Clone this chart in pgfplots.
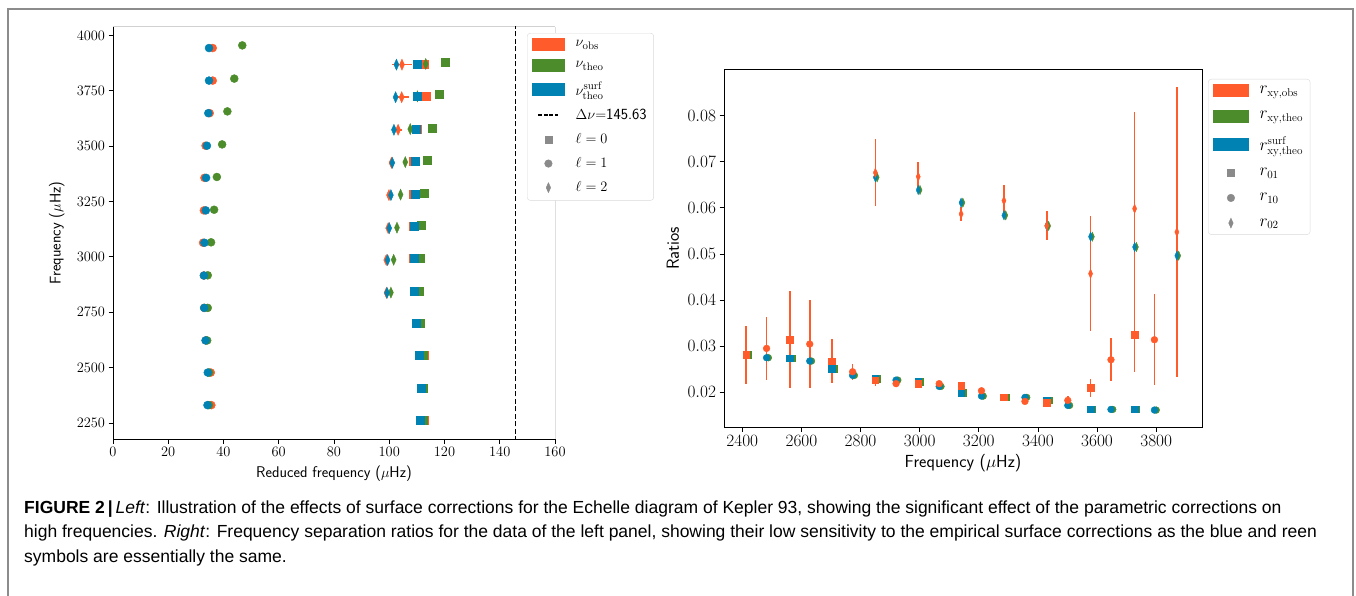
\documentclass[border=0pt]{standalone}
\usepackage{fontspec}
\usepackage{pgfplots}
\usepackage{pgfplotstable}
\pgfplotsset{compat=1.18}
\newfontfamily\capfont{Liberation Sans}
\definecolor{obs}{HTML}{FF5B2B}
\definecolor{theo}{HTML}{4C8C2B}
\definecolor{surf}{HTML}{0083B3}
\definecolor{lgray}{HTML}{8A8A8A}

% ---------- left panel data ----------
\pgfplotstableread{
x y xe
36.1 3943 0.4
36.1 3796 0.4
35.0 3649 0.3
33.5 3502 0.3
33.1 3357 0.3
32.9 3210 0.3
32.6 3064 0.3
32.9 2916 0.3
33.0 2770 0.3
33.6 2623 0.3
35.4 2478 0.3
35.6 2331 0.3
}\LcircObs
\pgfplotstableread{
x y
46.8 3955
43.9 3805
41.4 3657
39.5 3508
37.6 3361
36.6 3213
35.5 3066
34.3 2917
34.3 2770
34.1 2623
34.8 2478
34.7 2331
}\LcircTheo
\pgfplotstableread{
x y
34.75 3943
34.75 3796
34.5 3649
34.0 3502
33.7 3357
33.6 3210
33.1 3064
32.9 2916
33.0 2770
33.5 2623
34.3 2478
34.2 2331
}\LcircSurf
\pgfplotstableread{
x y xe
112.6 3871 1.5
113.4 3727 0.6
110.0 3577 0.5
108.7 3430 0.4
108.5 3283 0.4
108.8 3138 0.4
108.5 2992 0.4
109.0 2846 0.4
110.3 2701 0.4
112.7 2556 0.5
112.4 2409 0.5
112.8 2263 0.6
}\LsqObs
\pgfplotstableread{
x y
120.3 3880
117.9 3733
115.6 3583
113.9 3436
112.7 3289
111.7 3142
111.1 2994
110.7 2847
111.2 2701
112.4 2556
112.2 2409
112.4 2263
}\LsqTheo
\pgfplotstableread{
x y
110.2 3871
110.2 3727
109.8 3577
109.4 3430
109.3 3283
109.0 3138
109.0 2992
109.0 2846
109.6 2701
110.9 2556
111.4 2409
111.1 2263
}\LsqSurf
\pgfplotstableread{
x y xe
104.6 3868 3.5
104.5 3721 2.8
103.2 3574 1.3
100.8 3425 0.8
99.9 3279 0.8
99.6 3130 0.6
98.9 2986 0.8
99.0 2838 0.6
}\LdiaObs
\pgfplotstableread{
x y
113.2 3871
110.2 3725
107.6 3577
105.8 3428
104.1 3281
102.8 3132
101.6 2987
100.6 2839
}\LdiaTheo
\pgfplotstableread{
x y
102.6 3868
102.3 3721
101.7 3574
101.1 3425
100.6 3279
100.0 3130
99.4 2986
99.2 2838
}\LdiaSurf

% ---------- right panel data ----------
\pgfplotstableread{
x y e
2413 0.02817 0.0063
2561 0.03149 0.0106
2703 0.02680 0.0047
2850 0.02267 0.0012
2995 0.02190 0.0008
3140 0.02145 0.0007
3285 0.01899 0.0006
3430 0.01783 0.0008
3578 0.02101 0.0019
3727 0.03251 0.0080
}\RsqObs
\pgfplotstableread{
x y
2419 0.02820
2567 0.02745
2709 0.02513
2856 0.02296
3001 0.02231
3146 0.01993
3291 0.01899
3436 0.01834
3584 0.01639
3733 0.01639
}\RsqTheo
\pgfplotstableread{
x y
2413 0.02820
2561 0.02745
2703 0.02513
2850 0.02296
2995 0.02231
3140 0.01993
3285 0.01899
3430 0.01834
3578 0.01639
3727 0.01639
}\RsqSurf
\pgfplotstableread{
x y e
2482 0.02954 0.0069
2628 0.03048 0.0096
2773 0.02448 0.0017
2920 0.02190 0.0008
3066 0.02190 0.0005
3209 0.02036 0.0005
3356 0.01805 0.0006
3501 0.01827 0.0010
3647 0.02708 0.0047
3794 0.03142 0.0099
}\RcircObs
\pgfplotstableread{
x y
2488 0.02752
2634 0.02680
2779 0.02369
2926 0.02267
3072 0.02130
3215 0.01920
3362 0.01892
3507 0.01718
3653 0.01631
3800 0.01617
}\RcircTheo
\pgfplotstableread{
x y
2482 0.02752
2628 0.02680
2773 0.02369
2920 0.02267
3066 0.02130
3209 0.01920
3356 0.01892
3501 0.01718
3647 0.01631
3794 0.01617
}\RcircSurf
\pgfplotstableread{
x y e
2850 0.06764 0.0073
2995 0.06677 0.0031
3140 0.05868 0.0016
3285 0.06157 0.0033
3430 0.05614 0.0032
3578 0.04574 0.0124
3727 0.05983 0.0210
3870 0.05477 0.0315
}\RdiaObs
\pgfplotstableread{
x y
2856 0.06663
3001 0.06388
3146 0.06113
3291 0.05839
3436 0.05610
3584 0.05376
3733 0.05152
3876 0.04964
}\RdiaTheo
\pgfplotstableread{
x y
2850 0.06663
2995 0.06388
3140 0.06113
3285 0.05839
3430 0.05610
3578 0.05376
3727 0.05152
3870 0.04964
}\RdiaSurf

\pgfplotsset{
  mplaxis/.style={
    scale only axis,
    tick align=outside,
    major tick length=4.5pt,
    every tick/.style={black, line width=0.9pt},
    axis line style={line width=1pt},
    /pgf/number format/1000 sep={},
  },
  mpllegend/.style={
    legend cell align=left,
    legend style={draw=black!15, rounded corners=3pt, fill=white,
      inner xsep=5pt, inner ysep=5pt, column sep=9pt,
      cells={anchor=west}},
  },
}

\begin{document}
\begin{tikzpicture}[x=1pt,y=-1pt]
\useasboundingbox (0,0) rectangle (1356,596);
\draw[black!45, line width=1.3pt] (8,9) rectangle (1353,640);

% ================= LEFT PANEL =================
\begin{axis}[mplaxis, mpllegend,
  at={(113pt,-439pt)}, anchor=south west,
  width=442pt, height=412pt,
  axis lines*=left,
  xmin=0, xmax=160, ymin=2178, ymax=4038,
  xtick={0,20,40,60,80,100,120,140,160},
  ytick={2250,2500,2750,3000,3250,3500,3750,4000},
  tick label style={font=\fontsize{15}{16}\selectfont},
  xlabel={Reduced frequency ($\mu$Hz)},
  ylabel={Frequency ($\mu$Hz)},
  label style={font=\sffamily\fontsize{15.5}{18}\selectfont},
  xlabel style={at={(axis description cs:0.5,-0.083)}, anchor=center},
  ylabel style={at={(axis description cs:-0.127,0.5)}, anchor=center},
  legend style={at={(0.9367,0.9854)}, anchor=north west, row sep=8.6pt,
    font=\fontsize{15.5}{17}\selectfont},
]
\draw[line width=1pt] (rel axis cs:1,0) -- (rel axis cs:1,1);
\draw[black!18, line width=1pt] (rel axis cs:0,1) -- (rel axis cs:1,1);

\addlegendimage{legend image code/.code={\fill[obs, sharp corners] (0pt,-6pt) rectangle (32pt,6pt);}}
\addlegendentry{$\nu_{\mathrm{obs}}$}
\addlegendimage{legend image code/.code={\fill[theo, sharp corners] (0pt,-6pt) rectangle (32pt,6pt);}}
\addlegendentry{$\nu_{\mathrm{theo}}$}
\addlegendimage{legend image code/.code={\fill[surf, sharp corners] (0pt,-6pt) rectangle (32pt,6pt);}}
\addlegendentry{$\nu^{\mathrm{surf}}_{\mathrm{theo}}$}
\addlegendimage{legend image code/.code={\draw[black, sharp corners, line width=1.6pt, dash pattern=on 4pt off 1.5pt] (6pt,0pt) -- (26pt,0pt);}}
\addlegendentry{$\Delta\nu{=}$\textsf{145.63}}
\addlegendimage{legend image code/.code={\draw[lgray, sharp corners, mark=square*, mark size=3.6pt] plot coordinates {(16pt,0pt)};}}
\addlegendentry{$\ell=0$}
\addlegendimage{legend image code/.code={\draw[lgray, mark=*, mark size=3.8pt] plot coordinates {(16pt,0pt)};}}
\addlegendentry{$\ell=1$}
\addlegendimage{legend image code/.code={\draw[lgray, sharp corners, mark=diamond*, mark size=5pt, mark options={xscale=0.6}] plot coordinates {(16pt,0pt)};}}
\addlegendentry{$\ell=2$}

\addplot[black, line width=1.3pt, dash pattern=on 5pt off 2.5pt, forget plot] coordinates {(145.63,2100) (145.63,4100)};

% observed (orange) with horizontal error bars
\addplot[only marks, mark=*, mark size=4pt, color=obs, forget plot,
  error bars/.cd, x dir=both, x explicit, error mark=none,
  error bar style={line width=1.6pt, color=obs}]
  table[x=x, y=y, x error=xe] {\LcircObs};
\addplot[only marks, mark=square*, mark size=4pt, color=obs, forget plot,
  error bars/.cd, x dir=both, x explicit, error mark=none,
  error bar style={line width=1.6pt, color=obs}]
  table[x=x, y=y, x error=xe] {\LsqObs};
\addplot[only marks, mark=diamond*, mark size=5.5pt, mark options={xscale=0.6}, color=obs, forget plot,
  error bars/.cd, x dir=both, x explicit, error mark=none,
  error bar style={line width=1.6pt, color=obs}]
  table[x=x, y=y, x error=xe] {\LdiaObs};
% theoretical (green)
\addplot[only marks, mark=*, mark size=4pt, color=theo, forget plot] table[x=x, y=y] {\LcircTheo};
\addplot[only marks, mark=square*, mark size=4pt, color=theo, forget plot] table[x=x, y=y] {\LsqTheo};
\addplot[only marks, mark=diamond*, mark size=5.5pt, mark options={xscale=0.6}, color=theo, forget plot] table[x=x, y=y] {\LdiaTheo};
% surface corrected (blue)
\addplot[only marks, mark=*, mark size=4pt, color=surf, forget plot] table[x=x, y=y] {\LcircSurf};
\addplot[only marks, mark=square*, mark size=4pt, color=surf, forget plot] table[x=x, y=y] {\LsqSurf};
\addplot[only marks, mark=diamond*, mark size=5.5pt, mark options={xscale=0.6}, color=surf, forget plot] table[x=x, y=y] {\LdiaSurf};
\end{axis}

% ================= RIGHT PANEL =================
\begin{axis}[mplaxis, mpllegend,
  at={(724pt,-427pt)}, anchor=south west,
  width=478pt, height=357pt,
  xmin=2338, xmax=3955, ymin=0.0125, ymax=0.0899,
  xtick={2400,2600,2800,3000,3200,3400,3600,3800},
  ytick={0.02,0.03,0.04,0.05,0.06,0.07,0.08},
  xtick pos=bottom, ytick pos=left,
  scaled y ticks=false,
  yticklabel style={/pgf/number format/.cd, fixed, fixed zerofill, precision=2},
  tick label style={font=\fontsize{16}{17}\selectfont},
  xlabel={Frequency ($\mu$Hz)},
  ylabel={Ratios},
  label style={font=\sffamily\fontsize{17.5}{19}\selectfont},
  xlabel style={at={(axis description cs:0.5,-0.101)}, anchor=center},
  ylabel style={at={(axis description cs:-0.107,0.5)}, anchor=center},
  legend style={at={(1.0126,0.9748)}, anchor=north west, row sep=12.2pt,
    font=\fontsize{16}{17}\selectfont},
]
\addlegendimage{legend image code/.code={\fill[obs, sharp corners] (0pt,-6pt) rectangle (35pt,6pt);}}
\addlegendentry{$r_{\mathrm{xy,obs}}$}
\addlegendimage{legend image code/.code={\fill[theo, sharp corners] (0pt,-6pt) rectangle (35pt,6pt);}}
\addlegendentry{$r_{\mathrm{xy,theo}}$}
\addlegendimage{legend image code/.code={\fill[surf, sharp corners] (0pt,-6pt) rectangle (35pt,6pt);}}
\addlegendentry{$r^{\mathrm{surf}}_{\mathrm{xy,theo}}$}
\addlegendimage{legend image code/.code={\draw[lgray, sharp corners, mark=square*, mark size=3.6pt] plot coordinates {(17.5pt,0pt)};}}
\addlegendentry{$r_{01}$}
\addlegendimage{legend image code/.code={\draw[lgray, mark=*, mark size=3.8pt] plot coordinates {(17.5pt,0pt)};}}
\addlegendentry{$r_{10}$}
\addlegendimage{legend image code/.code={\draw[lgray, sharp corners, mark=diamond*, mark size=5pt, mark options={xscale=0.6}] plot coordinates {(17.5pt,0pt)};}}
\addlegendentry{$r_{02}$}

% theoretical (green)
\addplot[only marks, mark=square*, mark size=3.3pt, color=theo, forget plot] table[x=x, y=y] {\RsqTheo};
\addplot[only marks, mark=*, mark size=3.4pt, color=theo, forget plot] table[x=x, y=y] {\RcircTheo};
\addplot[only marks, mark=diamond*, mark size=4.6pt, mark options={xscale=0.6}, color=theo, forget plot] table[x=x, y=y] {\RdiaTheo};
% surface corrected (blue)
\addplot[only marks, mark=square*, mark size=3.3pt, color=surf, forget plot] table[x=x, y=y] {\RsqSurf};
\addplot[only marks, mark=*, mark size=3.4pt, color=surf, forget plot] table[x=x, y=y] {\RcircSurf};
\addplot[only marks, mark=diamond*, mark size=4.6pt, mark options={xscale=0.6}, color=surf, forget plot] table[x=x, y=y] {\RdiaSurf};
% observed (orange) with error bars
\addplot[only marks, mark=square*, mark size=3.3pt, color=obs, forget plot,
  error bars/.cd, y dir=both, y explicit, error mark=none,
  error bar style={line width=1.6pt, color=obs}]
  table[x=x, y=y, y error=e] {\RsqObs};
\addplot[only marks, mark=*, mark size=3.4pt, color=obs, forget plot,
  error bars/.cd, y dir=both, y explicit, error mark=none,
  error bar style={line width=1.6pt, color=obs}]
  table[x=x, y=y, y error=e] {\RcircObs};
\addplot[only marks, mark=diamond*, mark size=4.6pt, mark options={xscale=0.6}, color=obs, forget plot,
  error bars/.cd, y dir=both, y explicit, error mark=none,
  error bar style={line width=1.6pt, color=obs}]
  table[x=x, y=y, y error=e] {\RdiaObs};
\end{axis}

% ================= CAPTION =================
\node[anchor=base west, align=left, inner sep=0pt,
  font=\capfont\fontsize{17.5}{24.5}\selectfont] at (24,562)
{{\bfseries FIGURE 2\,|\,}\textit{Left}: Illustration of the effects of surface corrections for the Echelle diagram of Kepler 93, showing the significant effect of the parametric corrections on\\
high frequencies. \textit{Right}: Frequency separation ratios for the data of the left panel, showing their low sensitivity to the empirical surface corrections as the blue and reen\\
symbols are essentially the same.};
\end{tikzpicture}
\end{document}
